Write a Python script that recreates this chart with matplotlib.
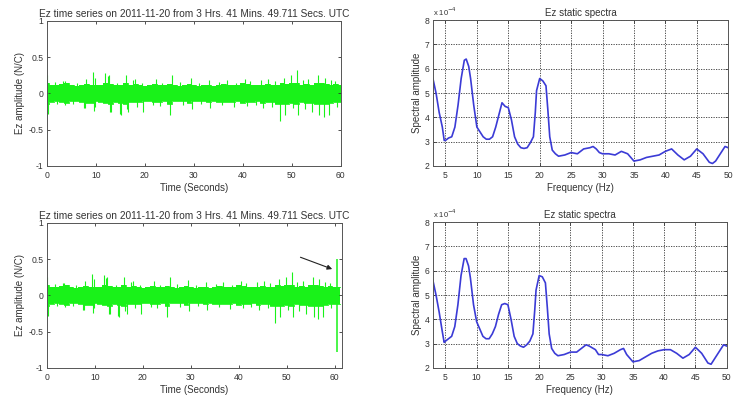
import numpy as np
import matplotlib
matplotlib.use("Agg")
import matplotlib.pyplot as plt

plt.rcParams['font.family'] = ['Liberation Sans', 'DejaVu Sans']

# ---------------- data ----------------
TITLE_TS = "Ez time series on 2011-11-20 from 3 Hrs. 41 Mins. 49.711 Secs. UTC"
TITLE_SP = "Ez static spectra"

# time-series envelope, one value per second (N/C)
ts_seconds = list(range(0, 61))
ts_upper = [0.14, 0.12, 0.11, 0.13, 0.14, 0.11, 0.10, 0.11, 0.13, 0.12,
            0.11, 0.12, 0.14, 0.13, 0.11, 0.12, 0.14, 0.12, 0.13, 0.11,
            0.10, 0.11, 0.13, 0.12, 0.11, 0.13, 0.11, 0.10, 0.11, 0.13,
            0.11, 0.10, 0.11, 0.12, 0.10, 0.12, 0.13, 0.12, 0.11, 0.12,
            0.14, 0.13, 0.12, 0.11, 0.12, 0.13, 0.12, 0.11, 0.14, 0.13,
            0.14, 0.15, 0.12, 0.13, 0.12, 0.14, 0.15, 0.13, 0.12, 0.13, 0.12]
ts_lower = [-0.14, -0.12, -0.11, -0.12, -0.13, -0.11, -0.10, -0.12, -0.13, -0.13,
            -0.11, -0.12, -0.13, -0.14, -0.12, -0.13, -0.14, -0.12, -0.12, -0.12,
            -0.10, -0.11, -0.12, -0.12, -0.11, -0.14, -0.11, -0.10, -0.11, -0.13,
            -0.11, -0.10, -0.11, -0.12, -0.10, -0.12, -0.12, -0.12, -0.12, -0.11,
            -0.13, -0.12, -0.12, -0.11, -0.13, -0.12, -0.12, -0.14, -0.15, -0.14,
            -0.13, -0.14, -0.12, -0.13, -0.13, -0.15, -0.15, -0.14, -0.13, -0.12, -0.12]
# isolated spikes (time s, amplitude N/C)
spike_t = [0.1, 1.6, 3.3, 3.6, 6.1, 7.9, 9.4, 9.8, 11.9, 12.4, 12.6, 14.3, 16.1,
           17.6, 17.9, 19.4, 22.3, 23.5, 25.6, 27.2, 29.4, 31.0, 33.1, 35.2,
           36.7, 38.6, 40.4, 41.5, 43.8, 45.2, 46.5, 48.4, 49.8, 51.0, 52.2,
           53.3, 55.4, 56.8, 58.0, 58.9,
           0.2, 2.0, 3.7, 5.4, 7.6, 7.8, 9.6, 9.8, 12.9, 13.1, 14.9, 15.1, 16.3,
           16.6, 18.4, 19.6, 21.7, 23.0, 25.1, 27.8, 29.6, 31.5, 33.3, 35.8,
           38.2, 40.9, 42.6, 44.1, 46.0, 47.6, 48.6, 50.3, 51.2, 52.6, 54.1,
           55.6, 56.6, 57.6, 59.2]
spike_v = [0.25, 0.16, 0.17, 0.17, 0.14, 0.20, 0.30, 0.22, 0.28, 0.24, 0.25, 0.15,
           0.26, 0.18, 0.20, 0.15, 0.20, 0.15, 0.25, 0.16, 0.21, 0.15, 0.18,
           0.16, 0.19, 0.15, 0.20, 0.17, 0.18, 0.20, 0.17, 0.22, 0.25, 0.33,
           0.18, 0.20, 0.25, 0.22, 0.18, 0.17,
           -0.28, -0.15, -0.16, -0.15, -0.20, -0.20, -0.24, -0.18, -0.25, -0.26,
           -0.28, -0.30, -0.22, -0.25, -0.18, -0.25, -0.16, -0.17, -0.30, -0.16,
           -0.22, -0.15, -0.20, -0.16, -0.19, -0.17, -0.16, -0.20, -0.18, -0.38,
           -0.30, -0.20, -0.30, -0.22, -0.25, -0.30, -0.33, -0.30, -0.18]
# extra second in lower record plus the big event
ts2_extra_seconds = [61]
ts2_extra_upper = [0.12]
ts2_extra_lower = [-0.12]
event_t = [60.4, 60.4]
event_v = [0.50, -0.78]

# spectra (units of 1e-4)
freq_top = [3, 3.5, 4, 4.5, 4.8, 5, 5.5, 6, 6.5, 7, 7.5, 8, 8.3, 8.7, 9, 9.5, 10,
            10.5, 11, 11.5, 12, 12.5, 13, 13.5, 14, 14.5, 15, 15.5, 16, 16.5, 17,
            17.5, 18, 18.5, 19, 19.3, 19.5, 20, 20.5, 21, 21.3, 21.6, 22, 22.5,
            23, 24, 25, 26, 27, 28, 28.5, 29, 29.5, 30, 31, 32, 33, 34, 35, 36,
            37, 38, 39, 40, 41, 42, 43, 44, 45, 46, 47, 47.5, 48, 49, 49.5, 50]
spec_top_e4 = [5.6, 5.0, 4.2, 3.6, 3.05, 3.05, 3.15, 3.2, 3.6, 4.5, 5.6, 6.35, 6.4,
               6.1, 5.6, 4.5, 3.6, 3.4, 3.2, 3.1, 3.1, 3.2, 3.6, 4.1, 4.6, 4.45,
               4.4, 3.9, 3.2, 2.9, 2.75, 2.72, 2.75, 2.95, 3.2, 4.2, 5.1, 5.6, 5.5,
               5.3, 4.3, 3.2, 2.65, 2.5, 2.4, 2.45, 2.55, 2.5, 2.7, 2.75, 2.8, 2.7,
               2.55, 2.5, 2.5, 2.45, 2.6, 2.5, 2.2, 2.25, 2.35, 2.4, 2.45, 2.6, 2.7,
               2.45, 2.25, 2.4, 2.7, 2.5, 2.15, 2.1, 2.2, 2.6, 2.8, 2.75]
freq_bot = [3, 3.5, 4, 4.5, 4.8, 5, 5.5, 6, 6.5, 7, 7.5, 8, 8.3, 8.7, 9, 9.5, 10,
            10.5, 11, 11.5, 12, 12.5, 13, 13.5, 14, 14.5, 15, 15.5, 16, 16.5, 17,
            17.5, 18, 18.5, 19, 19.3, 19.5, 20, 20.5, 21, 21.3, 21.6, 22, 22.5,
            23, 24, 25, 26, 27, 27.5, 28, 29, 29.5, 30, 31, 32, 33, 33.5, 34, 35,
            36, 37, 38, 39, 40, 41, 42, 43, 44, 45, 46, 47, 47.5, 48, 49, 49.5, 50]
spec_bot_e4 = [5.6, 5.0, 4.3, 3.5, 3.05, 3.1, 3.2, 3.3, 3.7, 4.6, 5.8, 6.5, 6.5,
               6.2, 5.7, 4.6, 3.9, 3.6, 3.3, 3.2, 3.2, 3.4, 3.7, 4.2, 4.6, 4.65,
               4.6, 4.0, 3.3, 3.0, 2.9, 2.85, 2.95, 3.1, 3.4, 4.4, 5.2, 5.8, 5.75,
               5.5, 4.5, 3.4, 2.8, 2.6, 2.5, 2.55, 2.65, 2.65, 2.85, 2.95, 2.9,
               2.75, 2.55, 2.55, 2.5, 2.6, 2.75, 2.8, 2.55, 2.25, 2.3, 2.45, 2.6,
               2.7, 2.75, 2.75, 2.6, 2.4, 2.55, 2.85, 2.6, 2.2, 2.15, 2.35, 2.75,
               2.95, 2.9]

GREEN = '#19f219'
BLUE = '#3b3bd6'
TXT = '#333333'

fig = plt.figure(figsize=(7.40, 3.96), dpi=100)


def style(ax):
    ax.tick_params(direction='in', top=True, right=True, length=2.5, width=0.6,
                   labelsize=6.2, colors=TXT, pad=3.5)
    for s in ax.spines.values():
        s.set_color('#555555')
        s.set_linewidth(0.7)


def ts_panel(rect, secs, up, lo, st, sv, xmax):
    ax = fig.add_axes(rect)
    ax.fill_between(secs, lo, up, step='mid', color=GREEN, lw=0)
    ax.plot(secs, up, drawstyle='steps-mid', color=GREEN, lw=0.6)
    ax.plot(secs, lo, drawstyle='steps-mid', color=GREEN, lw=0.6)
    ax.vlines(st, 0, sv, color=GREEN, lw=0.8)
    ax.set_xlim(0, xmax)
    ax.set_ylim(-1, 1)
    ax.set_xticks([0, 10, 20, 30, 40, 50, 60])
    ax.set_yticks([-1, -0.5, 0, 0.5, 1])
    ax.set_yticklabels(['-1', '-0.5', '0', '0.5', '1'])
    ax.set_title(TITLE_TS, fontsize=7.3, color=TXT, pad=3)
    ax.set_xlabel('Time (Seconds)', fontsize=7, color=TXT, labelpad=2)
    ax.set_ylabel('Ez amplitude (N/C)', fontsize=7, color=TXT, labelpad=2.5)
    style(ax)
    ax.tick_params(axis='y', pad=2.5)
    return ax


def sp_panel(rect, f, s):
    ax = fig.add_axes(rect)
    ax.plot(f, s, color=BLUE, lw=1.2)
    ax.set_xlim(3, 50)
    ax.set_ylim(2, 8)
    ax.set_xticks([5, 10, 15, 20, 25, 30, 35, 40, 45, 50])
    ax.set_yticks([2, 3, 4, 5, 6, 7, 8])
    ax.grid(True, linestyle=(0, (1.5, 1.5)), color='#333333', lw=0.6)
    ax.set_title(TITLE_SP, fontsize=7, color=TXT, pad=3)
    ax.set_xlabel('Frequency (Hz)', fontsize=7, color=TXT, labelpad=2)
    ax.set_ylabel('Spectral amplitude', fontsize=7, color=TXT, labelpad=1.5)
    ax.text(0.0, 1.015, r'x 10$^{-4}$', transform=ax.transAxes, fontsize=5.5,
            color=TXT, ha='left', va='bottom')
    style(ax)
    ax.tick_params(axis='y', pad=2.5)
    return ax


ts_panel([0.0635, 0.581, 0.397, 0.366], ts_seconds, ts_upper, ts_lower,
         spike_t, spike_v, 60)
secs2 = ts_seconds + ts2_extra_seconds
ax3 = ts_panel([0.0635, 0.071, 0.398, 0.366], secs2, ts_upper + ts2_extra_upper,
               ts_lower + ts2_extra_lower, spike_t, spike_v, 61.4)
ax3.vlines(event_t, 0, event_v, color=GREEN, lw=1.1)
ax3.annotate('', xy=(60.0, 0.35), xytext=(52.3, 0.54),
             arrowprops=dict(arrowstyle='-|>', color='#222222', lw=0.8,
                             mutation_scale=7))

sp_panel([0.585, 0.581, 0.399, 0.368], freq_top, spec_top_e4)
sp_panel([0.585, 0.071, 0.397, 0.368], freq_bot, spec_bot_e4)

fig.savefig('out.png', dpi=100, facecolor='white')
